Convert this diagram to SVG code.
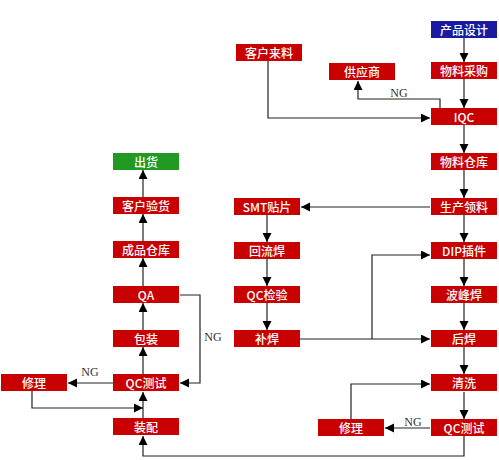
<svg xmlns="http://www.w3.org/2000/svg" width="499" height="460" viewBox="0 0 499 460">
<defs>
<style>
.b rect{fill:#c80000}
.b text{fill:#fff;font-family:"Noto Sans CJK SC","Liberation Sans",sans-serif;font-size:12px;font-weight:500;text-anchor:middle;dominant-baseline:central}
#n_design rect{fill:#1a1a9e}
#n_ship rect{fill:#229922}
.c path{fill:none;stroke:#222;stroke-width:1.2;marker-end:url(#ah)}
.ng{font-family:"Liberation Serif",serif;font-size:12px;fill:#333;text-anchor:middle}
</style>
<marker id="ah" markerWidth="10" markerHeight="10" refX="9" refY="4.5" orient="auto" markerUnits="userSpaceOnUse">
<path d="M0,0 L9,4.5 L0,9 z" fill="#000"/>
</marker>
</defs>
<rect width="499" height="460" fill="#fff"/>
<g id="connectors" class="c">
<path d="M464,38 V62"/>
<path d="M464,79 V108"/>
<path d="M268,61 V118 H430"/>
<path d="M440,108 V99 H358 V81"/>
<path d="M464,125 V153"/>
<path d="M464,170 V198"/>
<path d="M430,207 H301"/>
<path d="M464,215 V242"/>
<path d="M267,215 V242"/>
<path d="M267,259 V286"/>
<path d="M267,303 V330"/>
<path d="M300,339 H430"/>
<path d="M372,339 V255 H430"/>
<path d="M464,259 V286"/>
<path d="M464,303 V330"/>
<path d="M464,347 V374"/>
<path d="M464,392 V419"/>
<path d="M430,428 H385"/>
<path d="M351,419 V384 H430"/>
<path d="M464,436 V456 H143 V436"/>
<path d="M143,418 V392"/>
<path d="M32,391 V408 H143"/>
<path d="M113,383 H68"/>
<path d="M143,374 V347"/>
<path d="M143,330 V303"/>
<path d="M180,295 H200 V383 H180"/>
<path d="M143,286 V258"/>
<path d="M143,241 V214"/>
<path d="M143,197 V170"/>
<text class="ng" x="399" y="97">NG</text>
<text class="ng" x="413" y="426">NG</text>
<text class="ng" x="90" y="376">NG</text>
<text class="ng" x="213" y="341">NG</text>
</g>
<g id="n_design" class="b"><rect x="431" y="21" width="66" height="17"/><text x="464" y="29.5">产品设计</text></g>
<g id="n_purchase" class="b"><rect x="431" y="62" width="66" height="17"/><text x="464" y="70.5">物料采购</text></g>
<g id="n_customer_mat" class="b"><rect x="236" y="44" width="66" height="17"/><text x="269" y="52.5">客户来料</text></g>
<g id="n_supplier" class="b"><rect x="329" y="63" width="66" height="17"/><text x="362" y="71.5">供应商</text></g>
<g id="n_iqc" class="b"><rect x="431" y="108" width="66" height="17"/><text x="464" y="116.5">IQC</text></g>
<g id="n_store" class="b"><rect x="431" y="153" width="66" height="17"/><text x="464" y="161.5">物料仓库</text></g>
<g id="n_issue" class="b"><rect x="431" y="198" width="66" height="17"/><text x="464" y="206.5">生产领料</text></g>
<g id="n_dip" class="b"><rect x="431" y="242" width="66" height="17"/><text x="464" y="250.5">DIP插件</text></g>
<g id="n_wave" class="b"><rect x="431" y="286" width="66" height="17"/><text x="464" y="294.5">波峰焊</text></g>
<g id="n_post" class="b"><rect x="431" y="330" width="66" height="17"/><text x="464" y="338.5">后焊</text></g>
<g id="n_clean" class="b"><rect x="431" y="374" width="66" height="17"/><text x="464" y="382.5">清洗</text></g>
<g id="n_qctest_r" class="b"><rect x="431" y="419" width="66" height="17"/><text x="464" y="427.5">QC测试</text></g>
<g id="n_repair_r" class="b"><rect x="318" y="419" width="66" height="17"/><text x="351" y="427.5">修理</text></g>
<g id="n_smt" class="b"><rect x="234" y="198" width="66" height="17"/><text x="267" y="206.5">SMT贴片</text></g>
<g id="n_reflow" class="b"><rect x="234" y="242" width="66" height="17"/><text x="267" y="250.5">回流焊</text></g>
<g id="n_qccheck" class="b"><rect x="234" y="286" width="66" height="17"/><text x="267" y="294.5">QC检验</text></g>
<g id="n_rework" class="b"><rect x="234" y="330" width="66" height="17"/><text x="267" y="338.5">补焊</text></g>
<g id="n_ship" class="b"><rect x="113" y="153" width="66" height="17"/><text x="146" y="161.5">出货</text></g>
<g id="n_cust_insp" class="b"><rect x="113" y="197" width="66" height="17"/><text x="146" y="205.5">客户验货</text></g>
<g id="n_fg_store" class="b"><rect x="113" y="241" width="66" height="17"/><text x="146" y="249.5">成品仓库</text></g>
<g id="n_qa" class="b"><rect x="113" y="286" width="66" height="17"/><text x="146" y="294.5">QA</text></g>
<g id="n_pack" class="b"><rect x="113" y="330" width="66" height="17"/><text x="146" y="338.5">包装</text></g>
<g id="n_qctest_l" class="b"><rect x="113" y="374" width="66" height="17"/><text x="146" y="382.5">QC测试</text></g>
<g id="n_assy" class="b"><rect x="113" y="418" width="66" height="17"/><text x="146" y="426.5">装配</text></g>
<g id="n_repair_l" class="b"><rect x="1" y="374" width="66" height="17"/><text x="34" y="382.5">修理</text></g>
</svg>
